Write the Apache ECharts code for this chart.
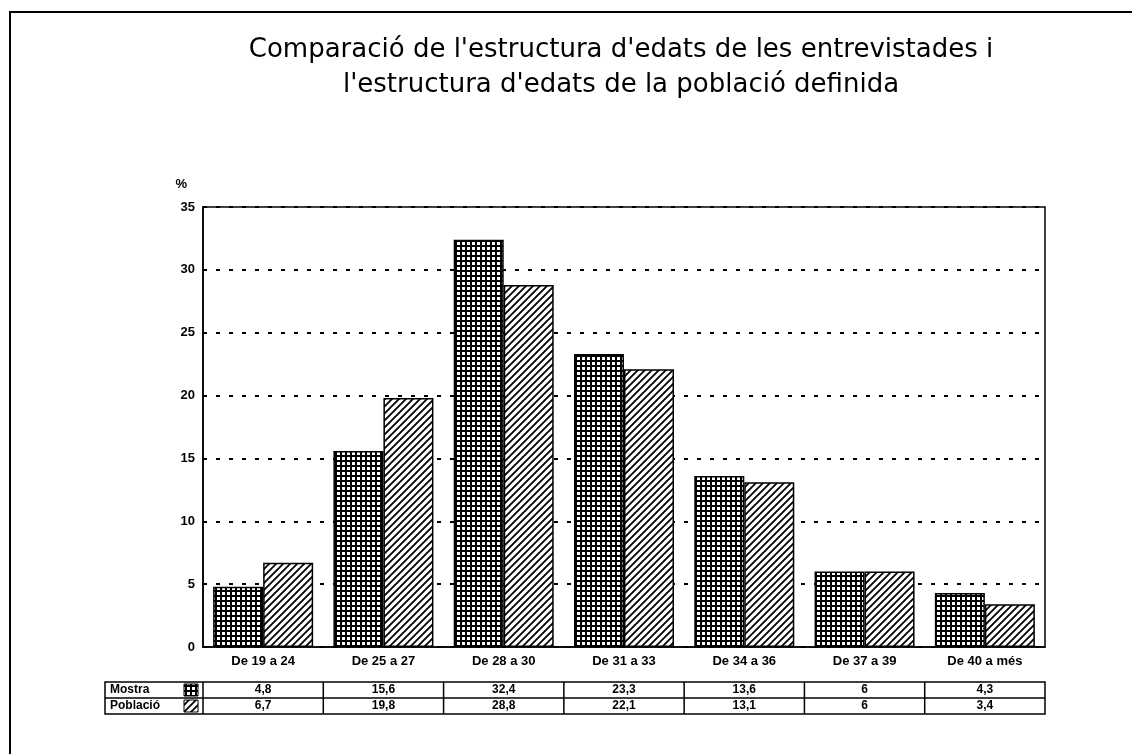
<!DOCTYPE html>
<html>
<head>
<meta charset="utf-8">
<script src="https://cdn.jsdelivr.net/npm/echarts@6/dist/echarts.min.js"></script>
<style>
  html, body { margin: 0; padding: 0; background: #fff; }
  #chart { width: 1132px; height: 754px; }
</style>
</head>
<body>
<div id="chart"></div>
<script>
const categories = ['De 19 a 24', 'De 25 a 27', 'De 28 a 30', 'De 31 a 33', 'De 34 a 36', 'De 37 a 39', 'De 40 a més']
const mostra = [4.8, 15.6, 32.4, 23.3, 13.6, 6, 4.3]
const poblacio = [6.7, 19.8, 28.8, 22.1, 13.1, 6, 3.4]
const seriesNames = ['Mostra', 'Població']

const gridLeft = 203
const gridRight = 1045
const tableTop = 682
const rowH = 16
const font = 'Liberation Sans, Arial, sans-serif'

// fill patterns like the old printout
function gridPattern() {
  const c = document.createElement('canvas')
  c.width = 5
  c.height = 5
  const ctx = c.getContext('2d')
  ctx.fillStyle = '#fff'
  ctx.fillRect(0, 0, 5, 5)
  ctx.fillStyle = '#000'
  ctx.fillRect(0, 0, 5, 2)
  ctx.fillRect(0, 0, 2, 5)
  return c
}

function hatchPattern() {
  const s = 7
  const c = document.createElement('canvas')
  c.width = s
  c.height = s
  const ctx = c.getContext('2d')
  ctx.fillStyle = '#fff'
  ctx.fillRect(0, 0, s, s)
  ctx.strokeStyle = '#000'
  ctx.lineWidth = 1.8
  ctx.beginPath()
  ctx.moveTo(0, s)
  ctx.lineTo(s, 0)
  ctx.moveTo(-1, 1)
  ctx.lineTo(1, -1)
  ctx.moveTo(s - 1, s + 1)
  ctx.lineTo(s + 1, s - 1)
  ctx.stroke()
  return c
}

const fills = [
  { image: gridPattern(), repeat: 'repeat' },
  { image: hatchPattern(), repeat: 'repeat' },
]

const chart = echarts.init(document.getElementById('chart'))

chart.setOption({
  backgroundColor: '#fff',
  animation: false,
  title: {
    text: "Comparació de l'estructura d'edats de les entrevistades i\nl'estructura d'edats de la població definida",
    left: 616,
    top: 28,
    textAlign: 'center',
    textStyle: {
      fontFamily: 'DejaVu Sans',
      fontWeight: 'normal',
      fontSize: 26,
      lineHeight: 35,
      color: '#000',
    },
  },
  grid: {
    left: gridLeft,
    right: 1132 - gridRight,
    top: 207,
    bottom: 754 - 647,
    show: true,
    borderColor: '#000',
    borderWidth: 1.5,
  },
  xAxis: {
    type: 'category',
    data: categories,
    axisLine: { lineStyle: { color: '#000', width: 1.5 } },
    axisTick: { show: false },
    axisLabel: {
      color: '#000',
      fontFamily: font,
      fontWeight: 'bold',
      fontSize: 13,
      margin: 8,
    },
  },
  yAxis: {
    type: 'value',
    min: 0,
    max: 35,
    interval: 5,
    name: '%',
    nameLocation: 'end',
    nameGap: 16,
    nameTextStyle: {
      color: '#000',
      fontFamily: font,
      fontWeight: 'bold',
      fontSize: 13,
      align: 'right',
      padding: [0, 16, 0, 0],
    },
    axisLine: { show: true, lineStyle: { color: '#000', width: 1.5 } },
    axisTick: { show: false },
    axisLabel: {
      color: '#000',
      fontFamily: font,
      fontWeight: 'bold',
      fontSize: 13,
      margin: 8,
    },
    splitLine: {
      lineStyle: { color: '#000', width: 2, type: [4, 9] },
    },
  },
  series: [
    {
      name: seriesNames[0],
      type: 'bar',
      data: mostra,
      barWidth: 50,
      barGap: '0%',
      itemStyle: { color: fills[0], borderColor: '#000', borderWidth: 1.5 },
    },
    {
      name: seriesNames[1],
      type: 'bar',
      data: poblacio,
      barWidth: 50,
      barGap: '0%',
      itemStyle: { color: fills[1], borderColor: '#000', borderWidth: 1.5 },
    },
  ],
})

// data table under the axis, columns follow the category bands
function buildTable() {
  const els = []
  const band = (gridRight - gridLeft) / categories.length
  const line = { stroke: '#000', lineWidth: 1.5 }
  const txt = (x, y, text, align) => ({
    type: 'text',
    x,
    y,
    style: {
      text,
      fill: '#000',
      font: 'bold 12px ' + font,
      align,
      verticalAlign: 'middle',
    },
  })

  // outer frame of the page
  els.push({
    type: 'polyline',
    shape: { points: [[10, 754], [10, 12], [1132, 12]] },
    style: { stroke: '#000', lineWidth: 2, fill: null },
  })

  els.push({
    type: 'rect',
    shape: { x: 105, y: tableTop, width: gridRight - 105, height: rowH * 2 },
    style: { fill: null, ...line },
  })
  els.push({
    type: 'line',
    shape: { x1: 105, y1: tableTop + rowH, x2: gridRight, y2: tableTop + rowH },
    style: line,
  })

  const rows = [mostra, poblacio]
  rows.forEach((vals, r) => {
    const cy = tableTop + rowH * r + rowH / 2
    els.push(txt(110, cy, seriesNames[r], 'left'))
    els.push({
      type: 'rect',
      shape: { x: 184, y: cy - 6, width: 14, height: 12 },
      style: { fill: fills[r], stroke: '#000', lineWidth: 1 },
    })
    vals.forEach((v, i) => {
      const cx = chart.convertToPixel({ xAxisIndex: 0 }, categories[i])
      els.push(txt(cx, cy, String(v).replace('.', ','), 'center'))
    })
  })

  for (let i = 0; i < categories.length; i++) {
    const x = gridLeft + band * i
    els.push({
      type: 'line',
      shape: { x1: x, y1: tableTop, x2: x, y2: tableTop + rowH * 2 },
      style: line,
    })
  }

  chart.setOption({ graphic: { elements: els } })
}

buildTable()
</script>
</body>
</html>
